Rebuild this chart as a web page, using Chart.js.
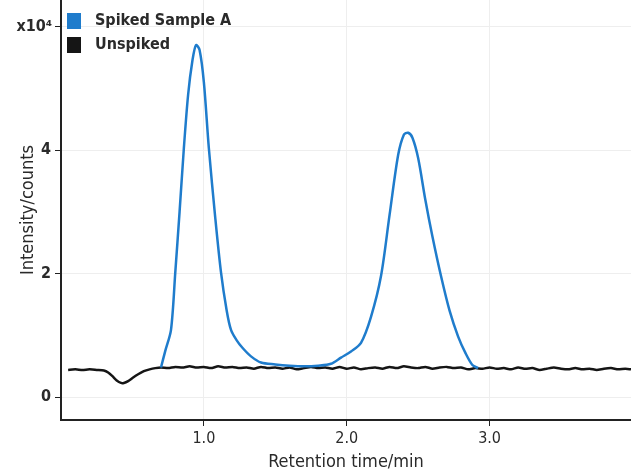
<!DOCTYPE html>
<html>
<head>
<meta charset="UTF-8">
<script src="https://cdn.jsdelivr.net/npm/chart.js"></script>
<style>
  html, body { margin: 0; padding: 0; background: #fff; }
  #wrap { width: 631px; height: 471px; }
</style>
</head>
<body>
<div id="wrap"><canvas id="grafico"></canvas></div>
<script>
const seriesNames = ["Spiked Sample A", "Unspiked"];
const seriesColors = ["#1f7ccc", "#151515"];

// retention time (min) / intensity (x10^4 counts)
const timeSpiked = [0.70, 0.73, 0.77, 0.80, 0.83, 0.86, 0.89, 0.92, 0.945, 0.97, 1.00, 1.035, 1.08, 1.12, 1.16, 1.19, 1.23, 1.27, 1.33, 1.40, 1.50, 1.60, 1.70, 1.80, 1.89, 1.96, 2.03, 2.10, 2.17, 2.24, 2.30, 2.36, 2.40, 2.43, 2.46, 2.50, 2.55, 2.60, 2.66, 2.72, 2.78, 2.83, 2.88, 2.92];
const valuesSpiked = [0.48, 0.75, 1.09, 2.02, 3.00, 4.03, 4.90, 5.45, 5.70, 5.62, 5.10, 4.03, 2.90, 2.02, 1.40, 1.09, 0.92, 0.80, 0.66, 0.56, 0.53, 0.51, 0.50, 0.51, 0.54, 0.64, 0.74, 0.88, 1.30, 1.96, 2.95, 3.92, 4.25, 4.28, 4.20, 3.87, 3.20, 2.60, 1.96, 1.40, 0.98, 0.72, 0.52, 0.47];

const timeUnspiked = [0.05, 0.10, 0.15, 0.20, 0.25, 0.30, 0.33, 0.36, 0.39, 0.42, 0.44, 0.47, 0.50, 0.54, 0.58, 0.62, 0.66, 0.70, 0.75, 0.80, 0.85, 0.90, 0.95, 1.00, 1.05, 1.10, 1.15, 1.20, 1.25, 1.30, 1.35, 1.40, 1.45, 1.50, 1.55, 1.60, 1.65, 1.70, 1.75, 1.80, 1.85, 1.90, 1.95, 2.00, 2.05, 2.10, 2.15, 2.20, 2.25, 2.30, 2.35, 2.40, 2.45, 2.50, 2.55, 2.60, 2.65, 2.70, 2.75, 2.80, 2.85, 2.90, 2.95, 3.00, 3.05, 3.10, 3.15, 3.20, 3.25, 3.30, 3.35, 3.40, 3.45, 3.50, 3.55, 3.60, 3.65, 3.70, 3.75, 3.80, 3.85, 3.90, 3.95, 3.99];
const valuesUnspiked = [0.44, 0.45, 0.44, 0.45, 0.44, 0.43, 0.40, 0.34, 0.27, 0.23, 0.23, 0.26, 0.31, 0.37, 0.42, 0.45, 0.47, 0.48, 0.47, 0.49, 0.48, 0.50, 0.48, 0.49, 0.47, 0.50, 0.48, 0.49, 0.47, 0.48, 0.46, 0.49, 0.47, 0.48, 0.46, 0.48, 0.45, 0.47, 0.49, 0.47, 0.48, 0.46, 0.49, 0.46, 0.48, 0.45, 0.47, 0.48, 0.46, 0.49, 0.47, 0.50, 0.48, 0.47, 0.49, 0.46, 0.48, 0.49, 0.47, 0.48, 0.45, 0.47, 0.46, 0.48, 0.46, 0.47, 0.45, 0.48, 0.46, 0.47, 0.44, 0.46, 0.48, 0.46, 0.45, 0.47, 0.45, 0.46, 0.44, 0.46, 0.47, 0.45, 0.46, 0.45];

const yTicks = [0, 2, 4, 6];
const yTickLabels = ["0", "2", "4", ""];
const yExponent = "x10\u2074";   // sits on the top tick (6)
const xTicks = [1, 2, 3];
const xTickLabels = ["1.0", "2.0", "3.0"];

const fuente = "'Liberation Sans Narrow', 'DejaVu Sans Condensed', sans-serif";

function puntos(xs, ys) {
    return xs.map((x, i) => ({ x: x, y: ys[i] }));
}

const leyenda = {
    id: "leyenda",
    afterDraw(chart) {
        const ctx = chart.ctx;
        ctx.save();
        ctx.font = "bold 16px " + fuente;
        ctx.textBaseline = "middle";
        chart.data.datasets.forEach((ds, i) => {
            const y = 21 + i * 24;
            ctx.fillStyle = ds.borderColor;
            ctx.fillRect(67, y - 8, 14, 16);
            ctx.fillStyle = "#2a2a2a";
            ctx.fillText(ds.label, 95, y);
        });
        // multiplicador del eje y junto a la marca superior
        const ejeY = chart.scales.y;
        ctx.textAlign = "right";
        ctx.fillText(yExponent, ejeY.right - 9, ejeY.getPixelForValue(yTicks[yTicks.length - 1]));
        ctx.restore();
    }
};

new Chart(document.getElementById("grafico").getContext("2d"), {
    type: "line",
    data: {
        datasets: [
            {
                label: seriesNames[0],
                data: puntos(timeSpiked, valuesSpiked),
                borderColor: seriesColors[0],
                borderWidth: 2.5,
                pointRadius: 0,
                tension: 0.3
            },
            {
                label: seriesNames[1],
                data: puntos(timeUnspiked, valuesUnspiked),
                borderColor: seriesColors[1],
                borderWidth: 2.5,
                pointRadius: 0,
                tension: 0.2
            }
        ]
    },
    options: {
        responsive: true,
        maintainAspectRatio: false,
        animation: false,
        layout: { padding: { top: 0, right: 0, left: 19, bottom: 0 } },
        plugins: {
            legend: { display: false },
            tooltip: { enabled: false }
        },
        scales: {
            x: {
                type: "linear",
                min: 0,
                max: 3.99,
                afterBuildTicks: axis => { axis.ticks = xTicks.map(v => ({ value: v })); },
                afterFit: axis => { axis.height = 51; axis.paddingLeft = 0; axis.paddingRight = 0; },
                ticks: {
                    callback: (v) => xTickLabels[xTicks.indexOf(v)],
                    color: "#2a2a2a",
                    font: { family: fuente, size: 16 },
                    padding: 3,
                    maxRotation: 0
                },
                grid: { color: "#eeeeee", tickColor: "#222", tickLength: 6 },
                border: { display: true, color: "#222", width: 2 },
                title: {
                    display: true,
                    text: "Retention time/min",
                    color: "#2a2a2a",
                    font: { family: fuente, size: 18, lineHeight: 1 },
                    padding: { top: 0, bottom: 0 }
                }
            },
            y: {
                type: "linear",
                min: -0.37,
                max: 6.43,
                afterBuildTicks: axis => { axis.ticks = yTicks.map(v => ({ value: v })); },
                afterFit: axis => { axis.width = 42; axis.paddingTop = 0; axis.paddingBottom = 0; },
                ticks: {
                    callback: (v) => yTickLabels[yTicks.indexOf(v)],
                    color: "#2a2a2a",
                    font: { family: fuente, size: 16, weight: "bold" },
                    padding: 4
                },
                grid: { color: "#eeeeee", tickColor: "#222", tickLength: 6 },
                border: { display: true, color: "#222", width: 2 },
                title: {
                    display: true,
                    text: "Intensity/counts",
                    color: "#2a2a2a",
                    font: { family: fuente, size: 18, lineHeight: 1 },
                    padding: { top: 0, bottom: 0 }
                }
            }
        }
    },
    plugins: [leyenda]
});
</script>
</body>
</html>
